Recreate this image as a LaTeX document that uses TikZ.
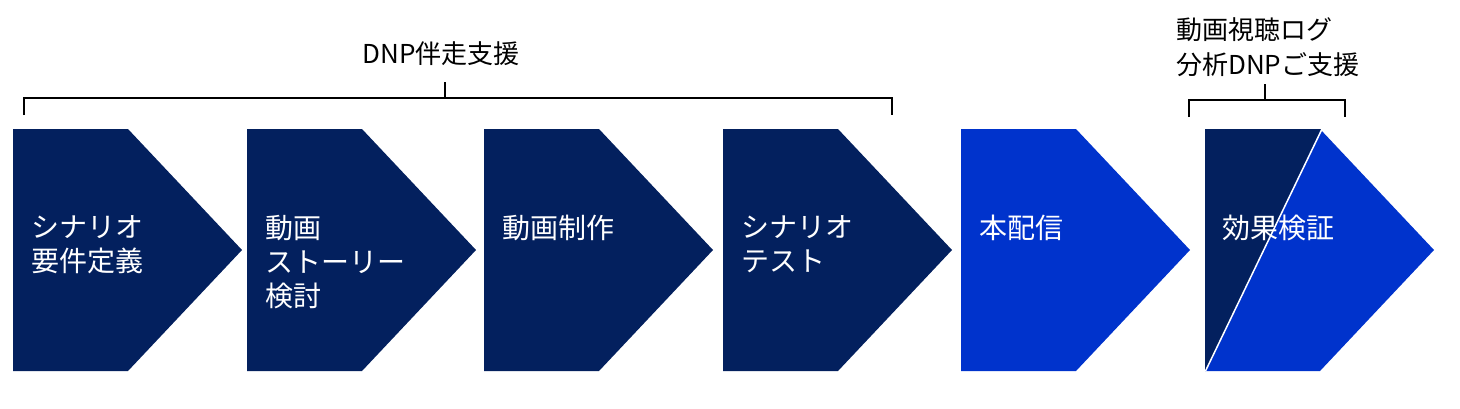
\documentclass[tikz,border=0pt]{standalone}
\usepackage{fontspec}
\setmainfont{Noto Sans CJK JP}
\definecolor{navy}{RGB}{3,32,94}
\definecolor{bright}{RGB}{0,51,204}
\tikzset{
  lbl/.style={anchor=north west, inner sep=0pt, align=left, text=white,
    font=\fontsize{28}{34}\selectfont},
  toplbl/.style={inner sep=0pt, align=left, text=black,
    font=\fontsize{26}{35}\selectfont},
  brk/.style={draw=black, line width=1.8pt},
}
\newcommand{\chevron}[2]{%
  \fill[#2] (#1,129) -- ++(115,0) -- ++(114,121) -- ++(-114,121) -- ++(-115,0) -- cycle;}
\begin{document}
\begin{tikzpicture}[x=1pt,y=-1pt]
\useasboundingbox (0,0) rectangle (1460,408);
% chevrons
\chevron{13}{navy}
\chevron{247}{navy}
\chevron{484}{navy}
\chevron{723}{navy}
\chevron{961}{bright}
\chevron{1205}{bright}
\fill[navy] (1205,129) -- (1321,129) -- (1205,371) -- cycle;
\draw[white, line width=1.5pt] (1322,129) -- (1205.5,371);
% labels
\node[lbl] (s1) at (31,215) {シナリオ\\要件定義};
\node[lbl] (s2) at (265,215) {動画\\ストーリー\\検討};
\node[lbl] (s3) at (502,215) {動画制作};
\node[lbl] (s4) at (741,215) {シナリオ\\テスト};
\node[lbl] (s5) at (979,215) {本配信};
\node[lbl] (s6) at (1222,215) {効果検証};
% bracket 1
\coordinate (b1l) at (24,115);
\coordinate (b1r) at (892,115);
\coordinate (b1m) at (445,98);
\coordinate (b1t) at (445,82);
\draw[brk] (b1l) |- (b1m) -| (b1r);
\draw[brk] (b1m) -- (b1t);
\node[toplbl, anchor=base] (t1) at (441,63) {DNP伴走支援};
% bracket 2
\coordinate (b2l) at (1189,117);
\coordinate (b2r) at (1345,117);
\coordinate (b2m) at (1265,100);
\coordinate (b2t) at (1265,84);
\draw[brk] (b2l) |- (b2m) -| (b2r);
\draw[brk] (b2m) -- (b2t);
\node[toplbl, anchor=north west] (t2) at (1176,17) {動画視聴ログ\\分析DNPご支援};
\end{tikzpicture}
\end{document}
